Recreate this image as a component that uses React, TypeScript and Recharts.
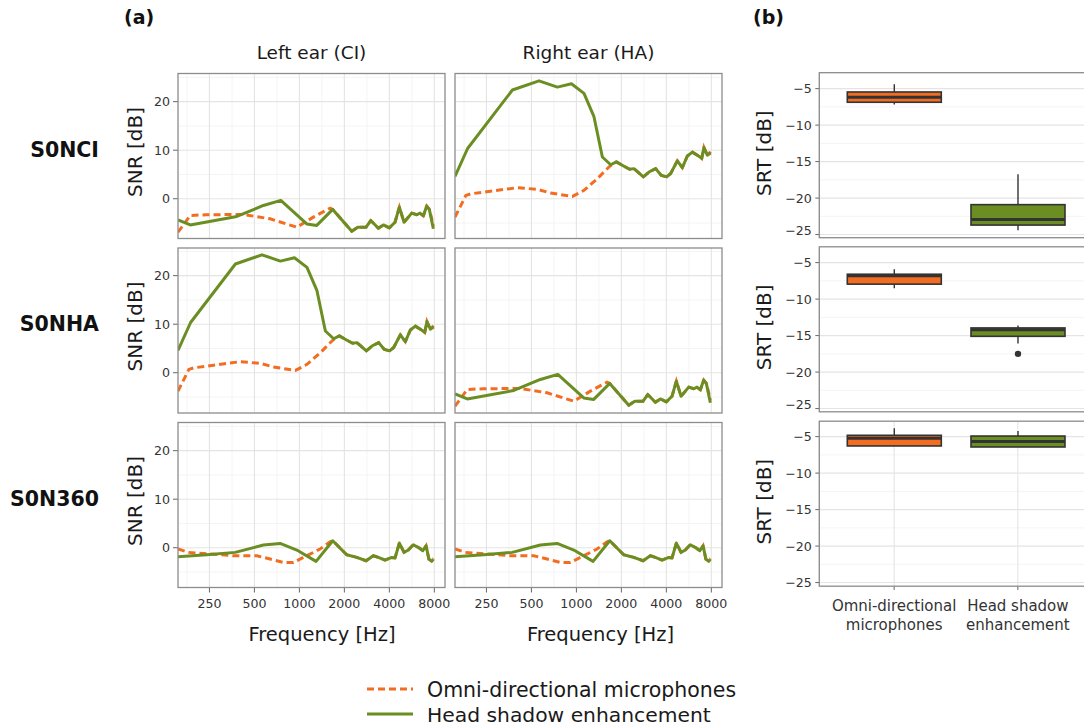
import React from "react";
import {
  LineChart,
  Line,
  XAxis,
  YAxis,
  CartesianGrid,
  ComposedChart,
  Bar,
} from "recharts";

// ---------- data ----------
const FREQ_MAJOR = [250, 500, 1000, 2000, 4000, 8000];
const FREQ_MINOR = [177, 354, 707, 1414, 2828, 5657];
const SNR_TICKS = [0, 10, 20];
const SNR_MINOR = [-5, 5, 15, 25];
const SRT_TICKS = [-5, -10, -15, -20, -25];
const SRT_MINOR = [-7.5, -12.5, -17.5, -22.5];

const ROWS = ["S0NCI", "S0NHA", "S0N360"];
const EARS = ["Left ear (CI)", "Right ear (HA)"];
const SERIES = ["Omni-directional microphones", "Head shadow enhancement"];
const BOX_CAT_LINES = [
  ["Omni-directional", "microphones"],
  ["Head shadow", "enhancement"],
];

// ear on the noise side: [frequency Hz, SNR dB]
const nearOmni = [
  [154, -6.9], [186, -3.46], [240, -3.3], [422, -3.25], [637, -4.14], [961, -5.87],
  [1240, -3.8], [1604, -1.94], [1672, -2.2], [2241, -6.7], [2459, -5.87], [2794, -5.87],
  [3004, -4.5], [3378, -6.08], [3648, -5.4], [4000, -6.0], [4367, -4.84], [4667, -1.74],
  [5016, -4.84], [5649, -2.97], [6100, -3.3], [6418, -2.97], [6757, -3.53], [7114, -1.52],
  [7408, -2.2], [7900, -5.6],
];
const nearHS = [
  [154, -4.35], [186, -5.4], [381, -3.66], [574, -1.39], [751, -0.35], [1120, -5.2],
  [1307, -5.5], [1672, -2.2], [2241, -6.7], [2459, -5.87], [2794, -5.87], [3004, -4.5],
  [3378, -6.08], [3648, -5.4], [4000, -6.0], [4367, -4.84], [4667, -1.74], [5016, -4.84],
  [5649, -2.97], [6100, -3.3], [6418, -2.97], [6757, -3.53], [7114, -1.52], [7408, -2.2],
  [7880, -6.2],
];
// ear away from the noise
const farOmni = [
  [154, -3.8], [182, 0.68], [196, 1.0], [403, 2.28], [548, 1.93], [673, 1.16], [940, 0.48],
  [1124, 1.72], [1382, 4.14], [1652, 6.54], [1750, 7.2], [1852, 7.6], [2082, 6.7],
  [2272, 6.07], [2428, 6.2], [2807, 4.5], [3059, 5.5], [3392, 6.2], [3704, 4.8], [4020, 4.5],
  [4275, 5.2], [4738, 7.8], [5118, 6.4], [5528, 8.8], [5971, 9.6], [6609, 8.76], [6900, 8.3],
  [7139, 10.55], [7520, 8.96], [7913, 9.7],
];
const farHS = [
  [154, 4.6], [187, 10.35], [373, 22.4], [562, 24.3], [746, 23.0], [926, 23.7], [1124, 21.7],
  [1311, 16.9], [1492, 8.6], [1696, 7.0], [1852, 7.6], [2082, 6.7], [2272, 6.07], [2428, 6.2],
  [2807, 4.5], [3059, 5.5], [3392, 6.2], [3704, 4.8], [4020, 4.5], [4275, 5.2], [4738, 7.8],
  [5118, 6.4], [5528, 8.8], [5971, 9.6], [6609, 8.76], [6900, 8.3], [7139, 10.55],
  [7520, 8.96], [7913, 9.4],
];
// diffuse noise (S0N360)
const diffOmni = [
  [154, -0.27], [181, -0.96], [240, -1.24], [362, -1.65], [519, -1.65], [637, -2.34],
  [781, -3.02], [912, -3.02], [1120, -1.65], [1375, -0.27], [1604, 1.2], [1672, 1.44],
  [2073, -1.44], [2421, -2.0], [2794, -2.68], [3125, -1.65], [3378, -2.0], [3745, -2.54],
  [4152, -2.0], [4367, -2.1], [4667, 0.96], [5016, -0.96], [5356, -0.48], [5786, 0.62],
  [6346, -0.07], [6698, -0.62], [7044, 0.41], [7356, -2.34], [7683, -2.6], [7900, -2.2],
];
const diffHS = [
  [154, -1.86], [240, -1.44], [372, -0.96], [574, 0.55], [743, 0.89], [961, -0.48],
  [1293, -2.82], [1672, 1.44], [2073, -1.44], [2421, -2.0], [2794, -2.68], [3125, -1.65],
  [3378, -2.0], [3745, -2.54], [4152, -2.0], [4367, -2.1], [4667, 0.96], [5016, -0.96],
  [5356, -0.48], [5786, 0.62], [6346, -0.07], [6698, -0.62], [7044, 0.41], [7356, -2.34],
  [7683, -2.82], [7880, -2.34],
];

// SRT box statistics per condition: [omni, head shadow]
const srtS0NCI = [
  { min: -7.19, q1: -6.87, med: -6.19, q3: -5.46, max: -4.41, out: [] },
  { min: -24.4, q1: -23.7, med: -22.95, q3: -20.9, max: -16.75, out: [] },
];
const srtS0NHA = [
  { min: -8.5, q1: -7.95, med: -6.8, q3: -6.59, max: -5.9, out: [] },
  { min: -16.1, q1: -15.1, med: -14.2, q3: -13.95, max: -13.6, out: [-17.5] },
];
const srtS0N360 = [
  { min: -6.28, q1: -6.28, med: -5.23, q3: -4.82, max: -3.87, out: [] },
  { min: -6.42, q1: -6.42, med: -5.68, q3: -4.92, max: -4.24, out: [] },
];

// ---------- styles ----------
const ORANGE = "#F26D21";
const GREEN = "#6B8E23";
const BOX_FILL = [ORANGE, GREEN];
const FONT = "DejaVu Sans, sans-serif";
const MAJOR_GRID = "#E4E4E4";
const MINOR_GRID = "#F1F1F1";
const BORDER = "#8C8C8C";
const TICK_COL = "#666";
const TEXT_COL = "#333";

const toPts = (arr: number[][]) => arr.map(([f, v]) => ({ f, v }));

const PANEL_W = 267;
const PANEL_H = 165;
const COL_X = [178, 455];
const ROW_Y = [73.5, 248, 422.5];
const BOX_X = 819.3;
const BOX_W = 273.4;
const BOX_Y = [72.7, 246.8, 421.2];

const panelSeries = [
  [[nearOmni, nearHS], [farOmni, farHS]],
  [[farOmni, farHS], [nearOmni, nearHS]],
  [[diffOmni, diffHS], [diffOmni, diffHS]],
];
const srtRows = [srtS0NCI, srtS0NHA, srtS0N360];

function SnrPanel({ row, col }: { row: number; col: number }) {
  const showY = col === 0;
  const showX = row === 2;
  const yW = showY ? 33 : 0;
  const xH = showX ? 35 : 0;
  const padR = showX ? 14 : 0;
  const [omni, hs] = panelSeries[row][col];
  return (
    <div style={{ position: "absolute", left: COL_X[col] - yW, top: ROW_Y[row] }}>
      <LineChart
        width={PANEL_W + yW + padR}
        height={PANEL_H + xH}
        margin={{ top: 0, right: padR, bottom: 0, left: 0 }}
      >
        <CartesianGrid
          stroke={MINOR_GRID}
          strokeWidth={0.8}
          horizontalValues={SNR_MINOR}
          verticalValues={FREQ_MINOR}
        />
        <CartesianGrid
          stroke={MAJOR_GRID}
          strokeWidth={1.1}
          horizontalValues={SNR_TICKS}
          verticalValues={FREQ_MAJOR}
        />
        <XAxis
          dataKey="f"
          type="number"
          scale="log"
          domain={[154, 9430]}
          allowDataOverflow
          ticks={FREQ_MAJOR}
          hide={!showX}
          height={xH}
          axisLine={false}
          tickSize={4.5}
          tickMargin={6.3}
          tickLine={{ stroke: TICK_COL }}
          tick={{ fontSize: 12.6, fill: TEXT_COL, fontFamily: FONT }}
          interval={0}
        />
        <YAxis
          type="number"
          domain={[-8.3, 25.7]}
          allowDataOverflow
          ticks={SNR_TICKS}
          hide={!showY}
          width={yW}
          axisLine={false}
          tickSize={5}
          tickMargin={3}
          tickLine={{ stroke: TICK_COL }}
          tick={{ fontSize: 12.6, fill: TEXT_COL, fontFamily: FONT }}
        />
        <Line
          data={toPts(omni)}
          dataKey="v"
          type="linear"
          stroke={ORANGE}
          strokeWidth={3}
          strokeDasharray="7 4"
          dot={false}
          isAnimationActive={false}
        />
        <Line
          data={toPts(hs)}
          dataKey="v"
          type="linear"
          stroke={GREEN}
          strokeWidth={3}
          strokeLinejoin="round"
          dot={false}
          isAnimationActive={false}
        />
      </LineChart>
    </div>
  );
}

const BoxShape = (props: any) => {
  const { x, y, width, height, payload, index } = props;
  const top = Math.min(y, y + height);
  const h = Math.abs(height);
  const ppu = h / (payload.q3 - payload.q1);
  const py = (v: number) => top + (payload.q3 - v) * ppu;
  const cx = x + width / 2;
  return (
    <g>
      <line x1={cx} x2={cx} y1={py(payload.max)} y2={top} stroke="#333" strokeWidth={1.4} />
      <line x1={cx} x2={cx} y1={top + h} y2={py(payload.min)} stroke="#333" strokeWidth={1.4} />
      <rect x={x} y={top} width={width} height={h} fill={BOX_FILL[index]} stroke="#333" strokeWidth={1.6} />
      <line x1={x} x2={x + width} y1={py(payload.med)} y2={py(payload.med)} stroke="#333" strokeWidth={3} />
      {payload.out.map((o: number, i: number) => (
        <circle key={i} cx={cx} cy={py(o)} r={3.2} fill="#333" />
      ))}
    </g>
  );
};

const CatTick = (props: any) => {
  const { x, y, payload } = props;
  const lines = BOX_CAT_LINES[payload.index] || [];
  return (
    <text x={x} y={y} textAnchor="middle" fontSize={15} fill={TEXT_COL} fontFamily={FONT}>
      <tspan x={x} y={y + 18.8}>{lines[0]}</tspan>
      <tspan x={x} y={y + 38.5}>{lines[1]}</tspan>
    </text>
  );
};

function BoxPanel({ row }: { row: number }) {
  const showX = row === 2;
  const yW = 49.3;
  const xH = showX ? 60 : 0;
  const data = srtRows[row].map((d, i) => ({ ...d, name: SERIES[i] }));
  return (
    <div style={{ position: "absolute", left: BOX_X - yW, top: BOX_Y[row] }}>
      <ComposedChart
        width={BOX_W + yW}
        height={PANEL_H + xH}
        data={data}
        margin={{ top: 0, right: 0, bottom: 0, left: 0 }}
      >
        <CartesianGrid stroke={MINOR_GRID} strokeWidth={0.8} horizontalValues={SRT_MINOR} vertical={false} />
        <CartesianGrid stroke={MAJOR_GRID} strokeWidth={1.1} horizontalValues={SRT_TICKS} />
        <XAxis
          dataKey="name"
          type="category"
          padding={{ left: 13, right: 13 }}
          height={xH}
          axisLine={false}
          tickSize={4}
          tickMargin={2}
          tickLine={showX ? { stroke: TICK_COL } : false}
          tick={showX ? <CatTick /> : false}
          interval={0}
        />
        <YAxis
          type="number"
          domain={[-25.47, -2.86]}
          allowDataOverflow
          ticks={SRT_TICKS}
          width={yW}
          axisLine={false}
          tickSize={4}
          tickMargin={3.5}
          tickLine={{ stroke: TICK_COL }}
          tickFormatter={(v: number) => String(v).replace("-", "\u2212")}
          tick={{ fontSize: 12.6, fill: TEXT_COL, fontFamily: FONT }}
        />
        <Bar
          dataKey={(d: any) => [d.q1, d.q3]}
          barSize={94}
          shape={BoxShape}
          isAnimationActive={false}
        />
      </ComposedChart>
    </div>
  );
}

function Overlay() {
  const rowLabelBase = [157.3, 331, 505.7];
  return (
    <svg
      width={1084}
      height={725}
      style={{ position: "absolute", left: 0, top: 0, pointerEvents: "none" }}
      fontFamily={FONT}
    >
      {/* panel borders */}
      {ROW_Y.map((ry, r) =>
        COL_X.map((cx, c) => (
          <rect key={`b${r}${c}`} x={cx} y={ry} width={PANEL_W} height={PANEL_H} fill="none" stroke={BORDER} strokeWidth={1.3} />
        ))
      )}
      {BOX_Y.map((by, r) => (
        <rect key={`bb${r}`} x={BOX_X} y={by} width={BOX_W} height={PANEL_H} fill="none" stroke={BORDER} strokeWidth={1.3} />
      ))}
      {/* panel tags */}
      <text x={124} y={24} fontSize={19} fontWeight="bold" fill="#111">(a)</text>
      <text x={753} y={24} fontSize={19} fontWeight="bold" fill="#111">(b)</text>
      {/* ear titles */}
      {EARS.map((e, c) => (
        <text key={e} x={COL_X[c] + PANEL_W / 2} y={59} fontSize={18.5} textAnchor="middle" fill="#1a1a1a">
          {e}
        </text>
      ))}
      {/* row labels */}
      {ROWS.map((r, i) => (
        <text key={r} x={99} y={rowLabelBase[i]} fontSize={20.5} fontWeight="bold" textAnchor="end" fill="#111">
          {r}
        </text>
      ))}
      {/* SNR axis titles */}
      {ROW_Y.map((ry, i) => (
        <text
          key={`snr${i}`}
          transform={`translate(142.4, ${ry + PANEL_H / 2 - 4}) rotate(-90)`}
          fontSize={20}
          textAnchor="middle"
          fill="#1a1a1a"
        >
          SNR [dB]
        </text>
      ))}
      {/* SRT axis titles */}
      {BOX_Y.map((by, i) => (
        <text
          key={`srt${i}`}
          transform={`translate(771.4, ${by + PANEL_H / 2 - 2}) rotate(-90)`}
          fontSize={20}
          textAnchor="middle"
          fill="#1a1a1a"
        >
          SRT [dB]
        </text>
      ))}
      {/* Frequency titles */}
      <text x={322} y={640.7} fontSize={19.5} textAnchor="middle" fill="#1a1a1a">Frequency [Hz]</text>
      <text x={600.5} y={640.7} fontSize={19.5} textAnchor="middle" fill="#1a1a1a">Frequency [Hz]</text>
      {/* legend */}
      <line x1={367} x2={413} y1={689} y2={689} stroke={ORANGE} strokeWidth={3} strokeDasharray="7 4" />
      <text x={427} y={696.7} fontSize={20.5} fill="#1a1a1a">{SERIES[0]}</text>
      <line x1={367} x2={413} y1={714} y2={714} stroke={GREEN} strokeWidth={3} />
      <text x={427} y={721.5} fontSize={20.3} fill="#1a1a1a">{SERIES[1]}</text>
    </svg>
  );
}

export default function App() {
  return (
    <div
      style={{
        position: "absolute",
        left: 0,
        top: 0,
        width: 1084,
        height: 725,
        overflow: "hidden",
        background: "#fff",
        fontFamily: FONT,
      }}
    >
      {[0, 1, 2].map((r) =>
        [0, 1].map((c) => <SnrPanel key={`p${r}${c}`} row={r} col={c} />)
      )}
      {[0, 1, 2].map((r) => (
        <BoxPanel key={`bx${r}`} row={r} />
      ))}
      <Overlay />
    </div>
  );
}
